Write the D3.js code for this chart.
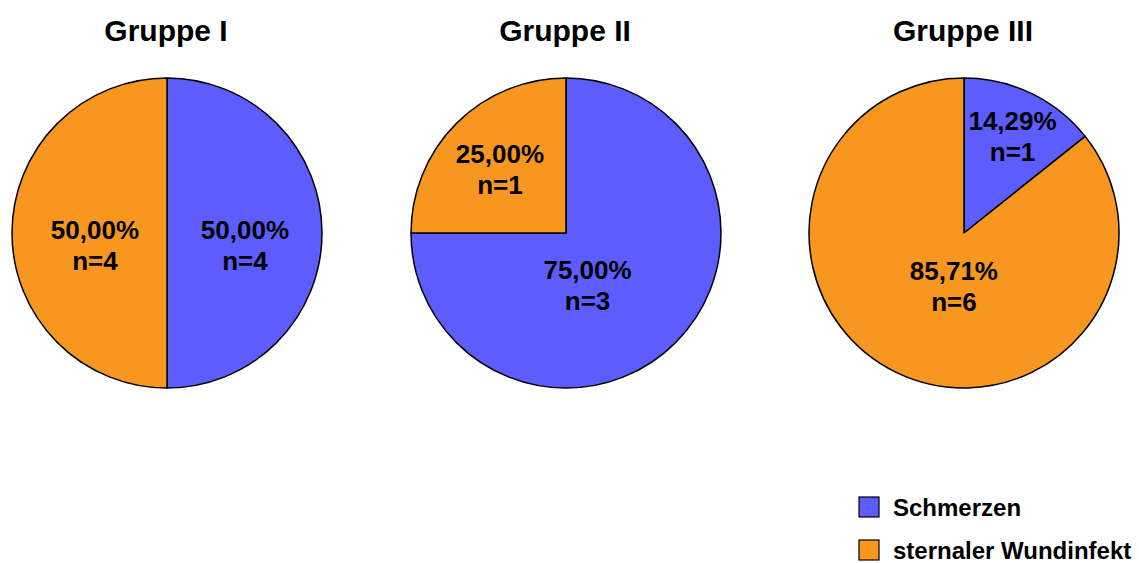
<!DOCTYPE html>
<html><head><meta charset="utf-8">
<script src="https://cdn.jsdelivr.net/npm/d3@7"></script>
<style>body{margin:0;background:#fff}svg{display:block}</style>
</head><body>
<script>
const groups = ["Gruppe I", "Gruppe II", "Gruppe III"];
const categories = ["Schmerzen", "sternaler Wundinfekt"];
const counts = [[4, 4], [3, 1], [1, 6]];
const percentLabels = [["50,00%", "50,00%"], ["75,00%", "25,00%"], ["14,29%", "85,71%"]];
const colors = ["#5C5CFF", "#F7971F"];

const W = 1139, H = 563;
const svg = d3.select("body").append("svg").attr("width", W).attr("height", H);
const font = "Liberation Sans, Arial, sans-serif";
const centers = [167, 566, 964];
const cy = 233, R = 155;
// label placement [radius fraction, angle (deg, clockwise from top)]
const labelPos = [[[0.503, 90], [0.465, 270]], [[0.293, 151.7], [0.65, 319]], [[0.77, 24], [0.27, 194]]];

const pie = d3.pie().sort(null).value(d => d);
const arc = d3.arc().innerRadius(0).outerRadius(R);

groups.forEach((g, gi) => {
  const cx = centers[gi];
  svg.append("text").attr("x", cx - 1).attr("y", 41).attr("text-anchor", "middle")
    .attr("font-family", font).attr("font-weight", "bold").attr("font-size", 30).text(g);
  const gg = svg.append("g").attr("transform", `translate(${cx},${cy})`);
  const arcs = pie(counts[gi]);
  gg.selectAll("path").data(arcs).join("path").attr("d", arc)
    .attr("fill", (d, i) => colors[i]).attr("stroke", "#000").attr("stroke-width", 1.5)
    .attr("stroke-linejoin", "round");
  arcs.forEach((a, i) => {
    const [f, ang] = labelPos[gi][i];
    const mid = ang * Math.PI / 180;
    const lx = Math.sin(mid) * R * f, ly = -Math.cos(mid) * R * f;
    const t = gg.append("text").attr("text-anchor", "middle").attr("font-family", font)
      .attr("font-weight", "bold").attr("font-size", 26);
    t.append("tspan").attr("x", lx).attr("y", ly + 6).text(percentLabels[gi][i]);
    t.append("tspan").attr("x", lx).attr("y", ly + 37).text("n=" + counts[gi][i]);
  });
});

const leg = svg.append("g");
categories.forEach((c, i) => {
  const y = 497 + i * 43;
  leg.append("rect").attr("x", 859).attr("y", y).attr("width", 20).attr("height", 20)
    .attr("fill", colors[i]).attr("stroke", "#000").attr("stroke-width", 1.2);
  leg.append("text").attr("x", 893).attr("y", y + 19).attr("font-family", font)
    .attr("font-weight", "bold").attr("font-size", 24).text(c);
});
</script>
</body></html>
